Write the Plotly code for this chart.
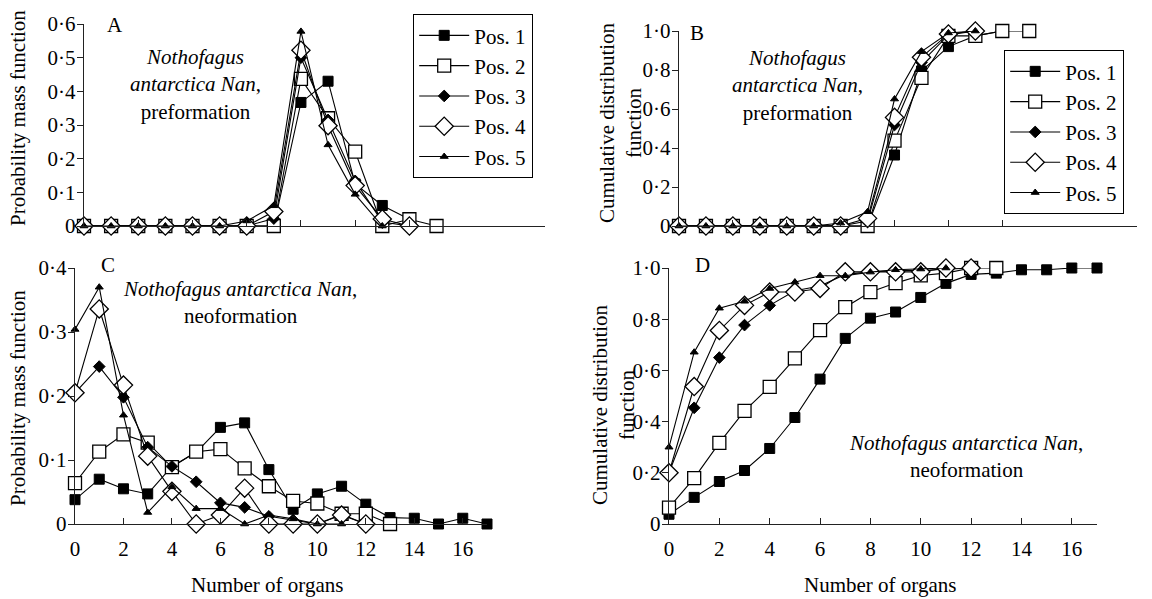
import plotly.graph_objects as go

# ---------------- data ----------------
series_names = ["Pos. 1", "Pos. 2", "Pos. 3", "Pos. 4", "Pos. 5"]

# A: probability mass function, preformation
pre_pmf_pos1 = [0, 0, 0, 0, 0, 0, 0, 0, 0.367, 0.430, 0.125, 0.061, 0.020]
pre_pmf_pos2 = [0, 0, 0, 0, 0, 0, 0, 0, 0.437, 0.320, 0.221, 0.0, 0.020, 0.0]
pre_pmf_pos3 = [0, 0, 0, 0, 0, 0, 0, 0.022, 0.500, 0.315, 0.134, 0.012, 0.0]
pre_pmf_pos4 = [0, 0, 0, 0, 0, 0, 0, 0.043, 0.522, 0.298, 0.120, 0.021, 0.0]
pre_pmf_pos5 = [0, 0, 0, 0, 0, 0, 0.015, 0.060, 0.578, 0.241, 0.094, 0.0]

# B: cumulative distribution function, preformation
pre_cdf_pos1 = [0, 0, 0, 0, 0, 0, 0, 0, 0.364, 0.795, 0.920, 0.975, 1.0]
pre_cdf_pos2 = [0, 0, 0, 0, 0, 0, 0, 0, 0.438, 0.760, 0.975, 0.975, 1.0, 1.0]
pre_cdf_pos3 = [0, 0, 0, 0, 0, 0, 0, 0.025, 0.518, 0.839, 0.980, 1.0]
pre_cdf_pos4 = [0, 0, 0, 0, 0, 0, 0, 0.039, 0.557, 0.865, 0.985, 1.0]
pre_cdf_pos5 = [0, 0, 0, 0, 0, 0, 0.015, 0.073, 0.651, 0.894, 0.990, 1.0]

# C: probability mass function, neoformation
neo_pmf_pos1 = [0.038, 0.070, 0.055, 0.047, 0.090, 0.112, 0.151, 0.158, 0.085,
                0.023, 0.047, 0.059, 0.031, 0.010, 0.009, 0.0, 0.009, 0.0]
neo_pmf_pos2 = [0.064, 0.113, 0.140, 0.127, 0.089, 0.113, 0.117, 0.087, 0.059,
                0.036, 0.032, 0.016, 0.016, 0.0]
neo_pmf_pos3 = [0.205, 0.246, 0.198, 0.120, 0.090, 0.066, 0.033, 0.026, 0.012,
                0.006, 0.0, 0.015, 0.0]
neo_pmf_pos4 = [0.205, 0.336, 0.217, 0.106, 0.051, 0.0, 0.014, 0.056, 0.0,
                0.0, 0.0, 0.014, 0.0]
neo_pmf_pos5 = [0.304, 0.370, 0.170, 0.018, 0.058, 0.024, 0.024, 0.0, 0.014,
                0.008, 0.0, 0.0]

# D: cumulative distribution function, neoformation
neo_cdf_pos1 = [0.038, 0.104, 0.166, 0.209, 0.295, 0.416, 0.566, 0.725, 0.804,
                0.828, 0.885, 0.940, 0.975, 0.980, 0.993, 0.993, 1.0, 1.0]
neo_cdf_pos2 = [0.064, 0.179, 0.317, 0.442, 0.536, 0.647, 0.757, 0.847, 0.906,
                0.941, 0.971, 0.980, 1.0, 1.0]
neo_cdf_pos3 = [0.200, 0.454, 0.650, 0.777, 0.854, 0.911, 0.930, 0.975, 0.985,
                0.990, 0.990, 0.995, 1.0]
neo_cdf_pos4 = [0.200, 0.537, 0.756, 0.854, 0.906, 0.906, 0.920, 0.985, 0.985,
                0.985, 0.985, 1.0, 1.0]
neo_cdf_pos5 = [0.300, 0.671, 0.843, 0.870, 0.920, 0.945, 0.970, 0.970, 0.984,
                0.993, 0.996, 1.0]

x_tick_vals = [0, 2, 4, 6, 8, 10, 12, 14, 16]
x_tick_text = ["0", "2", "4", "6", "8", "10", "12", "14", "16"]
x_tick_vals_top = [0, 2, 4, 6, 8, 10, 12]
yA_vals = [0, 0.1, 0.2, 0.3, 0.4, 0.5, 0.6]
yA_text = ["0", "0·1", "0·2", "0·3", "0·4", "0·5", "0·6"]
yC_vals = [0, 0.1, 0.2, 0.3, 0.4]
yC_text = ["0", "0·1", "0·2", "0·3", "0·4"]
yCDF_vals = [0, 0.2, 0.4, 0.6, 0.8, 1.0]
yCDF_text = ["0", "0·2", "0·4", "0·6", "0·8", "1·0"]

# ---------------- styling ----------------
FONT = "Liberation Serif, Times New Roman, serif"
FS = 21
W, H = 1152, 599

marker_styles = [
    dict(symbol="square", size=10, color="black", line=dict(color="black", width=1)),
    dict(symbol="square", size=13, color="white", line=dict(color="black", width=1.3)),
    dict(symbol="diamond", size=9, color="black", line=dict(color="black", width=1)),
    dict(symbol="diamond", size=14, color="white", line=dict(color="black", width=1.3)),
    dict(symbol="triangle-up", size=7, color="black", line=dict(color="black", width=1)),
]

panels = [
    ("x", "y", [pre_pmf_pos1, pre_pmf_pos2, pre_pmf_pos3, pre_pmf_pos4, pre_pmf_pos5], "legend"),
    ("x2", "y2", [pre_cdf_pos1, pre_cdf_pos2, pre_cdf_pos3, pre_cdf_pos4, pre_cdf_pos5], "legend2"),
    ("x3", "y3", [neo_pmf_pos1, neo_pmf_pos2, neo_pmf_pos3, neo_pmf_pos4, neo_pmf_pos5], None),
    ("x4", "y4", [neo_cdf_pos1, neo_cdf_pos2, neo_cdf_pos3, neo_cdf_pos4, neo_cdf_pos5], None),
]

fig = go.Figure()
for xa, ya, series, leg in panels:
    for name, vals, ms in zip(series_names, series, marker_styles):
        kw = dict(legend=leg, showlegend=True) if leg else dict(showlegend=False)
        fig.add_trace(go.Scatter(
            x=list(range(len(vals))), y=vals, name=name, mode="lines+markers",
            line=dict(color="black", width=1.1), marker=ms, cliponaxis=False,
            xaxis=xa, yaxis=ya, **kw))


def px_x(p):
    return p / W


def px_y(p):
    return 1 - p / H


axis_line = dict(showline=True, linecolor="#222", linewidth=1.4, showgrid=False,
                 zeroline=False, tickcolor="#222", tickwidth=1.2, automargin=False,
                 tickfont=dict(family=FONT, size=FS, color="black"))


def xaxis(dom, labels, anchor):
    d = dict(axis_line, domain=dom, range=[0, 17], anchor=anchor, ticks="inside", ticklen=6,
             showticklabels=labels)
    if labels:
        d.update(tickvals=x_tick_vals, ticktext=x_tick_text, ticklabelstandoff=6)
    else:
        d.update(tickvals=x_tick_vals_top)
    return d


def yaxis(dom, rng, vals, text, anchor):
    return dict(axis_line, domain=dom, range=rng, anchor=anchor, ticks="outside", ticklen=6,
                tickvals=vals, ticktext=text, ticklabelstandoff=-3)


legend_common = dict(xanchor="left", yanchor="top", bordercolor="black", borderwidth=1.2,
                     bgcolor="white", itemwidth=50, tracegroupgap=0,
                     font=dict(family=FONT, size=FS, color="black"))

fig.update_layout(
    width=W, height=H, margin=dict(l=0, r=0, t=0, b=0),
    paper_bgcolor="white", plot_bgcolor="white",
    font=dict(family=FONT, size=FS, color="black"),
    xaxis=xaxis([px_x(84), px_x(545)], False, "y"),
    yaxis=yaxis([px_y(226), px_y(24)], [0, 0.6], yA_vals, yA_text, "x"),
    xaxis2=xaxis([px_x(679), px_x(1137)], False, "y2"),
    yaxis2=yaxis([px_y(226), px_y(31)], [0, 1.0], yCDF_vals, yCDF_text, "x2"),
    xaxis3=xaxis([px_x(75), px_x(487)], True, "y3"),
    yaxis3=yaxis([px_y(524), px_y(268)], [0, 0.4], yC_vals, yC_text, "x3"),
    xaxis4=xaxis([px_x(669), px_x(1097)], True, "y4"),
    yaxis4=yaxis([px_y(524), px_y(268)], [0, 1.0], yCDF_vals, yCDF_text, "x4"),
    legend=dict(legend_common, x=px_x(413), y=px_y(14)),
    legend2=dict(legend_common, x=px_x(1004), y=px_y(50)),
)

ann = []


def add_text(x, y, text, angle=0, xanchor="center", yanchor="middle"):
    ann.append(dict(x=px_x(x), y=px_y(y), xref="paper", yref="paper", text=text,
                    showarrow=False, textangle=angle, xanchor=xanchor, yanchor=yanchor,
                    font=dict(family=FONT, size=FS, color="black")))


# panel letters
add_text(115, 25, "A")
add_text(697, 33, "B")
add_text(108, 265, "C")
add_text(702, 265, "D")

# panel captions
add_text(195, 85, "<i>Nothofagus</i><br><i>antarctica Nan</i>,<br>preformation")
add_text(797, 86, "<i>Nothofagus</i><br><i>antarctica Nan</i>,<br>preformation")
add_text(240, 302, "<i>Nothofagus antarctica Nan</i>,<br>neoformation")
add_text(966, 456, "<i>Nothofagus antarctica Nan</i>,<br>neoformation")

# axis titles
add_text(18, 118, "Probability mass function", angle=-90)
add_text(18, 398, "Probability mass function", angle=-90)
add_text(620, 123, "Cumulative distribution<br>function", angle=-90)
add_text(613, 405, "Cumulative distribution<br>function", angle=-90)
add_text(267, 585, "Number of organs")
add_text(880, 585, "Number of organs")

fig.update_layout(annotations=ann)
fig.write_html("out.html", config={"displayModeBar": False},
               post_script="document.body.style.margin='0';document.body.style.overflow='hidden';")
